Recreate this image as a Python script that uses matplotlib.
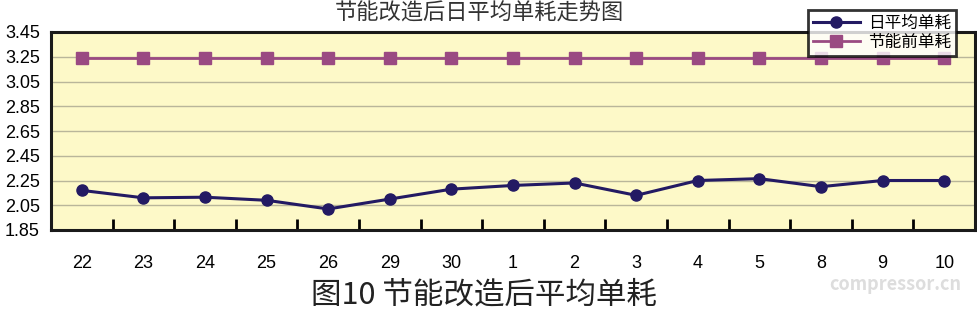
import numpy as np
import matplotlib
matplotlib.use("Agg")
import matplotlib.pyplot as plt
from matplotlib.ticker import FixedLocator

plt.rcParams["font.family"] = ["Noto Sans CJK SC", "DejaVu Sans"]

days = ["22", "23", "24", "25", "26", "29", "30", "1", "2", "3", "4", "5", "8", "9", "10"]
daily_avg = [2.17, 2.11, 2.115, 2.09, 2.02, 2.10, 2.18, 2.21, 2.23, 2.13, 2.25, 2.265, 2.20, 2.25, 2.25]
before = [3.24] * 15
yticks = [1.85, 2.05, 2.25, 2.45, 2.65, 2.85, 3.05, 3.25, 3.45]

_NAVY, _PLUM, _BG = "#231a63", "#9a4a82", "#fdf9c8"
_NUM = ["Liberation Sans", "DejaVu Sans"]

fig = plt.figure(figsize=(9.78, 3.13), dpi=100)
ax = fig.add_axes([51 / 978, 83 / 313, 924 / 978, 198 / 313])
ax.set_facecolor(_BG)
x = np.arange(len(days))

ax.plot(x, before, "-s", color=_PLUM, lw=2, ms=9, label="节能前单耗", zorder=3)
ax.plot(x, daily_avg, "-o", color=_NAVY, lw=2.2, ms=8, label="日平均单耗", zorder=4)

ax.set_xlim(-0.5, len(days) - 0.5)
ax.set_ylim(1.85, 3.45)
ax.set_yticks(yticks)
ax.set_yticklabels([f"{v:.2f}" for v in yticks], fontsize=13, family=_NUM)
ax.tick_params(axis="y", length=0, pad=8)
ax.grid(axis="y", color="#b9b69a", lw=1.0)
ax.set_axisbelow(True)

ax.set_xticks(x)
ax.set_xticklabels(days, fontsize=13, family=_NUM)
ax.tick_params(axis="x", which="major", length=0, pad=18)
ax.xaxis.set_minor_locator(FixedLocator(np.arange(0.5, len(days) - 1, 1)))
ax.tick_params(axis="x", which="minor", direction="in", length=8, width=2, color="black")

for s in ax.spines.values():
    s.set_linewidth(2.2)
    s.set_color("#1a1a1a")

handles, labels = ax.get_legend_handles_labels()
leg = ax.legend(handles[::-1], labels[::-1], loc="upper right",
                bbox_to_anchor=(956 / 978, 303 / 313), bbox_transform=fig.transFigure,
                fontsize=12, frameon=True, fancybox=False, borderpad=0.3,
                handlelength=2.8, labelspacing=0.1, borderaxespad=0, handletextpad=0.5)
leg.get_frame().set_edgecolor("black")
leg.get_frame().set_linewidth(2)
leg.set_zorder(10)

fig.text(0.49, 0.958, "节能改造后日平均单耗走势图", ha="center", va="center",
         fontsize=16, color="#333333")
fig.text(0.495, 0.058, "图10 节能改造后平均单耗", ha="center", va="center",
         fontsize=22, color="#222222")
fig.text(0.915, 0.09, "compressor.cn", ha="center", va="center",
         fontsize=13, color="#dddddd", fontweight="bold", style="italic")

fig.savefig("out.png", dpi=100)
